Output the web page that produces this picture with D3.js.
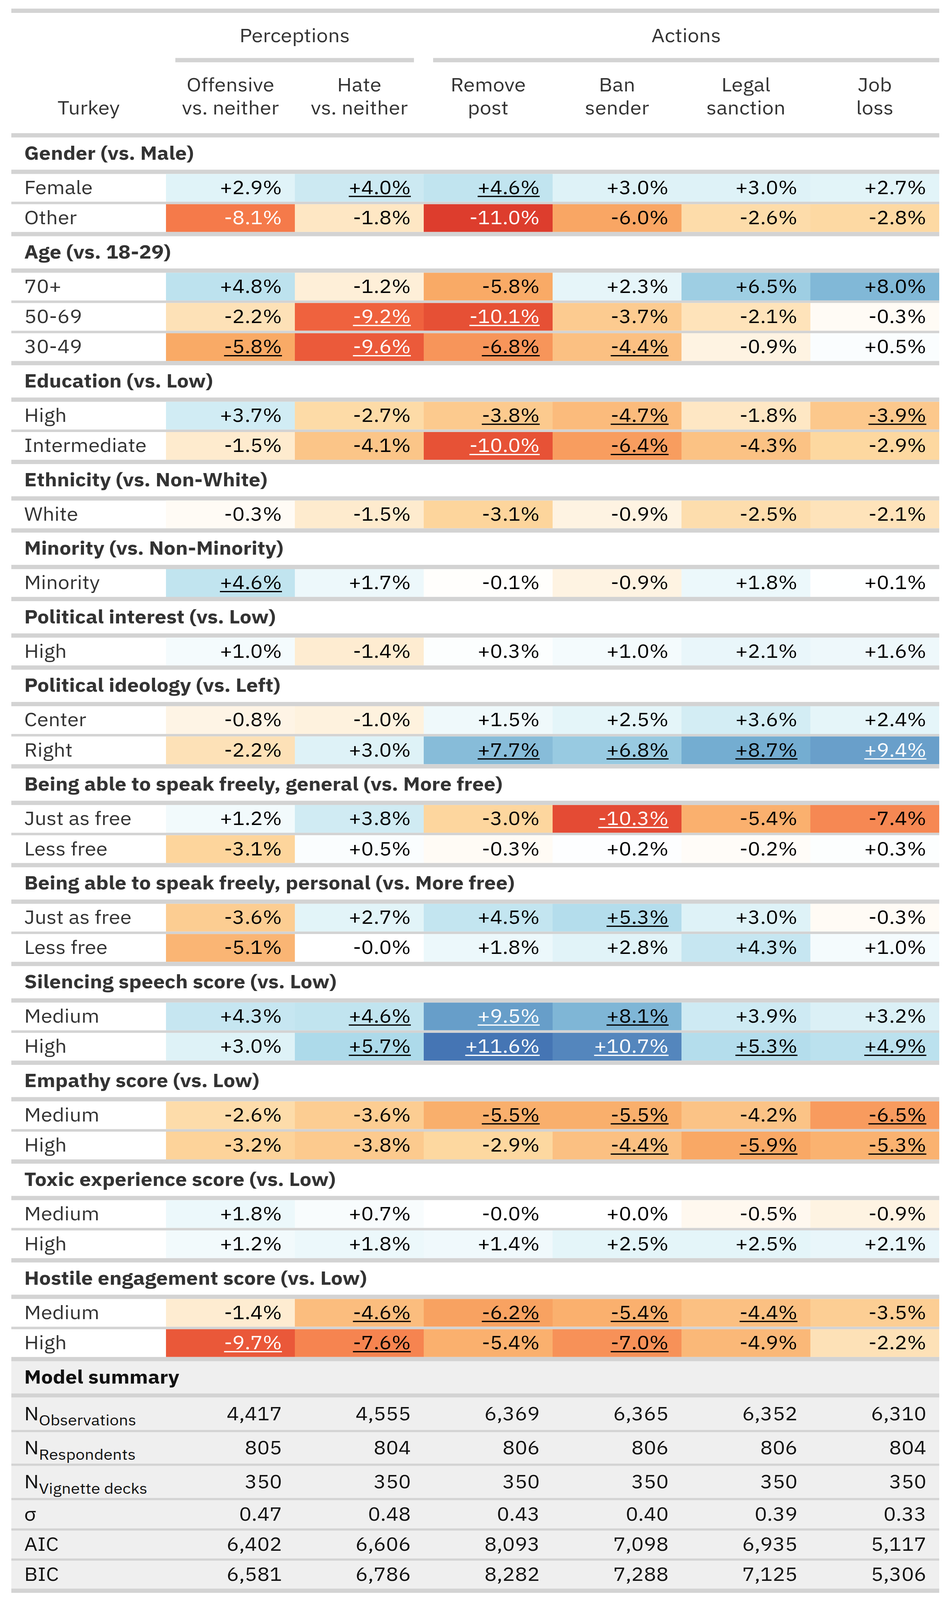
<!DOCTYPE html>
<html>
<head>
<meta charset="utf-8">
<script src="https://cdn.jsdelivr.net/npm/d3@7"></script>
<style>
  html, body { margin: 0; padding: 0; background: #fff; overflow: hidden; }
  #chart svg { display: block; }
  svg text { font-family: 'IBM Plex Sans', Roboto, 'Open Sans', sans-serif; }
</style>
</head>
<body>
<div id="chart"></div>
<script>
// ---- data ----
var country = 'Turkey';
var spanners = ['Perceptions', 'Actions'];
var spanCols = [[0, 1], [2, 5]];
var columnHeads = [
    ['Offensive', 'vs. neither'],
    ['Hate', 'vs. neither'],
    ['Remove', 'post'],
    ['Ban', 'sender'],
    ['Legal', 'sanction'],
    ['Job', 'loss']
];

var groupLabels = [
    'Gender (vs. Male)',
    'Age (vs. 18-29)',
    'Education (vs. Low)',
    'Ethnicity (vs. Non-White)',
    'Minority (vs. Non-Minority)',
    'Political interest (vs. Low)',
    'Political ideology (vs. Left)',
    'Being able to speak freely, general (vs. More free)',
    'Being able to speak freely, personal (vs. More free)',
    'Silencing speech score (vs. Low)',
    'Empathy score (vs. Low)',
    'Toxic experience score (vs. Low)',
    'Hostile engagement score (vs. Low)'
];

var groupRows = [
    ['Female', 'Other'],
    ['70+', '50-69', '30-49'],
    ['High', 'Intermediate'],
    ['White'],
    ['Minority'],
    ['High'],
    ['Center', 'Right'],
    ['Just as free', 'Less free'],
    ['Just as free', 'Less free'],
    ['Medium', 'High'],
    ['Medium', 'High'],
    ['Medium', 'High'],
    ['Medium', 'High']
];

// percentage-point estimates, one array per row (same order as groupRows)
var estimates = [
    [2.9, 4.0, 4.6, 3.0, 3.0, 2.7],
    [-8.1, -1.8, -11.0, -6.0, -2.6, -2.8],
    [4.8, -1.2, -5.8, 2.3, 6.5, 8.0],
    [-2.2, -9.2, -10.1, -3.7, -2.1, -0.3],
    [-5.8, -9.6, -6.8, -4.4, -0.9, 0.5],
    [3.7, -2.7, -3.8, -4.7, -1.8, -3.9],
    [-1.5, -4.1, -10.0, -6.4, -4.3, -2.9],
    [-0.3, -1.5, -3.1, -0.9, -2.5, -2.1],
    [4.6, 1.7, -0.1, -0.9, 1.8, 0.1],
    [1.0, -1.4, 0.3, 1.0, 2.1, 1.6],
    [-0.8, -1.0, 1.5, 2.5, 3.6, 2.4],
    [-2.2, 3.0, 7.7, 6.8, 8.7, 9.4],
    [1.2, 3.8, -3.0, -10.3, -5.4, -7.4],
    [-3.1, 0.5, -0.3, 0.2, -0.2, 0.3],
    [-3.6, 2.7, 4.5, 5.3, 3.0, -0.3],
    [-5.1, -0, 1.8, 2.8, 4.3, 1.0],
    [4.3, 4.6, 9.5, 8.1, 3.9, 3.2],
    [3.0, 5.7, 11.6, 10.7, 5.3, 4.9],
    [-2.6, -3.6, -5.5, -5.5, -4.2, -6.5],
    [-3.2, -3.8, -2.9, -4.4, -5.9, -5.3],
    [1.8, 0.7, -0, 0.0, -0.5, -0.9],
    [1.2, 1.8, 1.4, 2.5, 2.5, 2.1],
    [-1.4, -4.6, -6.2, -5.4, -4.4, -3.5],
    [-9.7, -7.6, -5.4, -7.0, -4.9, -2.2]
];

// 1 = underlined (significant)
var significant = [
    [0, 1, 1, 0, 0, 0],
    [0, 0, 0, 0, 0, 0],
    [0, 0, 0, 0, 0, 0],
    [0, 1, 1, 0, 0, 0],
    [1, 1, 1, 1, 0, 0],
    [0, 0, 1, 1, 0, 1],
    [0, 0, 1, 1, 0, 0],
    [0, 0, 0, 0, 0, 0],
    [1, 0, 0, 0, 0, 0],
    [0, 0, 0, 0, 0, 0],
    [0, 0, 0, 0, 0, 0],
    [0, 0, 1, 1, 1, 1],
    [0, 0, 0, 1, 0, 0],
    [0, 0, 0, 0, 0, 0],
    [0, 0, 0, 1, 0, 0],
    [0, 0, 0, 0, 0, 0],
    [0, 1, 1, 1, 0, 0],
    [0, 1, 1, 1, 1, 1],
    [0, 0, 1, 1, 0, 1],
    [0, 0, 0, 1, 1, 1],
    [0, 0, 0, 0, 0, 0],
    [0, 0, 0, 0, 0, 0],
    [0, 1, 1, 1, 1, 0],
    [1, 1, 0, 1, 0, 0]
];

var summaryTitle = 'Model summary';
var summaryLabels = [['N', 'Observations'], ['N', 'Respondents'], ['N', 'Vignette decks'], ['σ'], ['AIC'], ['BIC']];
var nObservations = [4417, 4555, 6369, 6365, 6352, 6310];
var nRespondents = [805, 804, 806, 806, 806, 804];
var nDecks = [350, 350, 350, 350, 350, 350];
var sigma = [0.47, 0.48, 0.43, 0.40, 0.39, 0.33];
var aic = [6402, 6606, 8093, 7098, 6935, 5117];
var bic = [6581, 6786, 8282, 7288, 7125, 5306];

// ---- drawing ----
var W = 2430, H = 4470;
var left = 29, right = 2405, labelX = 62;
var fs = 53;
var lineColor = '#d3d3d3';

// drawing is laid out in a 2430x4470 box and stretched to whatever the window really shows
var svg = d3.select('#chart').append('svg')
    .attr('width', window.innerWidth || W)
    .attr('height', window.innerHeight || H)
    .attr('viewBox', '0 0 ' + W + ' ' + H)
    .attr('preserveAspectRatio', 'none');

var x = d3.scaleBand()
    .domain(d3.range(columnHeads.length))
    .range([425, right]);

var maxAbs = d3.max(estimates, function(r) {
    return d3.max(r, function(v) { return Math.abs(v); });
});

var color = d3.scaleLinear()
    .domain([-4, -3, -2, -1, 0, 1, 2, 3, 4].map(function(k) { return k * maxAbs / 4; }))
    .range(['#d73027', '#f46d43', '#f9aa66', '#fdd8a0', '#ffffff', '#e0f3f8', '#abd9e9', '#74add1', '#4575b4'])
    .clamp(true);

function luminance(c) {
    var rgb = d3.rgb(c);
    function lin(v) {
        v = v / 255;
        return v <= 0.03928 ? v / 12.92 : Math.pow((v + 0.055) / 1.055, 2.4);
    }
    return 0.2126 * lin(rgb.r) + 0.7152 * lin(rgb.g) + 0.0722 * lin(rgb.b);
}

function fmtPct(v) {
    var neg = v < 0 || Object.is(v, -0);
    return (neg ? '-' : '+') + Math.abs(v).toFixed(1) + '%';
}

function hline(y, h, x0, x1) {
    x0 = x0 === undefined ? left : x0;
    x1 = x1 === undefined ? right : x1;
    svg.append('rect')
        .attr('x', x0)
        .attr('y', y)
        .attr('width', x1 - x0)
        .attr('height', h)
        .attr('fill', lineColor);
}

// header
hline(24, 12);

spanners.forEach(function(s, i) {
    var x0 = x(spanCols[i][0]) + 24;
    var x1 = i === spanners.length - 1 ? right : x(spanCols[i][1]) + x.bandwidth() - 25;
    svg.append('text')
        .attr('x', (x0 + x1) / 2)
        .attr('y', 118)
        .attr('text-anchor', 'middle')
        .attr('font-size', fs)
        .attr('fill', '#333')
        .text(s);
    hline(162, 12, x0, x1);
});

svg.append('text')
    .attr('x', (left + x(0)) / 2)
    .attr('y', 320)
    .attr('text-anchor', 'middle')
    .attr('font-size', fs)
    .attr('fill', '#333')
    .text(country);

columnHeads.forEach(function(lines, i) {
    lines.forEach(function(l, j) {
        svg.append('text')
            .attr('x', x(i) + x.bandwidth() / 2)
            .attr('y', 255 + j * 65)
            .attr('text-anchor', 'middle')
            .attr('font-size', fs)
            .attr('fill', '#333')
            .text(l);
    });
});

hline(372, 12);

// body
var y = 384;
var rowH = 77.5, thin = 7, thick = 12, groupH = 90;
var r = 0;

groupLabels.forEach(function(g, gi) {
    svg.append('text')
        .attr('x', labelX)
        .attr('y', y + 62)
        .attr('font-size', fs)
        .attr('font-weight', 'bold')
        .attr('fill', '#333')
        .text(g);
    y += groupH;
    hline(y, thick);
    y += thick;

    groupRows[gi].forEach(function(label, ri) {
        if (ri > 0) {
            hline(y, thin);
            y += thin;
        }
        svg.append('text')
            .attr('x', labelX)
            .attr('y', y + 56)
            .attr('font-size', fs)
            .attr('fill', '#333')
            .text(label);

        var row = svg.append('g').attr('transform', 'translate(0,' + y + ')');
        var cells = row.selectAll('.cell')
            .data(estimates[r].map(function(v, i) {
                return { v: v, i: i, sig: significant[r][i] };
            }))
            .enter()
            .append('g')
            .attr('class', 'cell');

        cells.append('rect')
            .attr('x', function(d) { return x(d.i); })
            .attr('y', 0)
            .attr('width', x.bandwidth())
            .attr('height', rowH)
            .attr('fill', function(d) { return color(d.v); });

        cells.each(function(d) {
            var fill = luminance(color(d.v)) < 0.36 ? '#fff' : '#000';
            var xe = x(d.i) + x.bandwidth() - 33;
            var t = d3.select(this).append('text')
                .attr('x', xe)
                .attr('y', 56)
                .attr('text-anchor', 'end')
                .attr('font-size', fs)
                .attr('fill', fill)
                .text(fmtPct(d.v));
            if (d.sig) {
                var len = t.node().getComputedTextLength();
                d3.select(this).append('rect')
                    .attr('x', xe - len)
                    .attr('y', 61)
                    .attr('width', len)
                    .attr('height', 3.5)
                    .attr('fill', fill);
            }
        });

        y += rowH;
        r++;
    });
    hline(y, thick);
    y += thick;
});

// model summary
var summaryValues = [nObservations, nRespondents, nDecks, sigma, aic, bic];
var summaryH = [91, 88, 90, 79, 78, 78];
var sTop = y;
var sThin = 6;
var sTotal = groupH + 11 + d3.sum(summaryH) + sThin * (summaryH.length - 1);

svg.append('rect')
    .attr('x', left)
    .attr('y', sTop)
    .attr('width', right - left)
    .attr('height', sTotal)
    .attr('fill', '#efefef');

svg.append('text')
    .attr('x', labelX)
    .attr('y', y + 62)
    .attr('font-size', fs)
    .attr('font-weight', 'bold')
    .attr('fill', '#111')
    .text(summaryTitle);
y += groupH;
hline(y, 11);
y += 11;

var intFmt = d3.format(',');
var sigFmt = d3.format('.2f');

summaryLabels.forEach(function(lab, k) {
    if (k > 0) {
        hline(y, sThin);
        y += sThin;
    }
    var base = y + summaryH[k] / 2 + 18;
    var t = svg.append('text')
        .attr('x', labelX)
        .attr('y', base)
        .attr('font-size', fs)
        .attr('fill', '#111');
    t.append('tspan').text(lab[0]);
    if (lab[1]) {
        t.append('tspan')
            .attr('dy', 15)
            .attr('font-size', 42)
            .text(lab[1]);
    }
    summaryValues[k].forEach(function(v, i) {
        svg.append('text')
            .attr('x', x(i) + x.bandwidth() - 33)
            .attr('y', base)
            .attr('text-anchor', 'end')
            .attr('font-size', fs)
            .attr('fill', '#111')
            .text(k === 3 ? sigFmt(v) : intFmt(v));
    });
    y += summaryH[k];
});

hline(y, 12);
</script>
</body>
</html>
